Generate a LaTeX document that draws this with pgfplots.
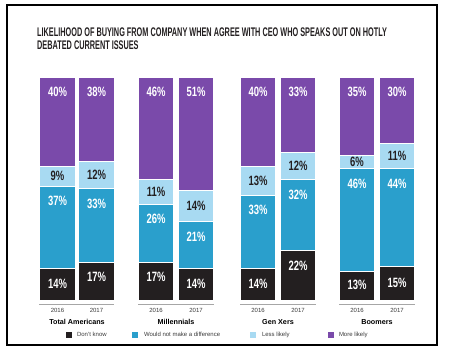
\documentclass[border=0pt]{standalone}
\usepackage{pgfplots}
\pgfplotsset{compat=1.18}
\usepackage{fontspec}
\setmainfont{Liberation Sans}
\newfontfamily\titlefont{Liberation Sans}[FakeStretch=0.585]
\newfontfamily\pctfont{Liberation Sans}[FakeStretch=0.7]
\definecolor{cdk}{HTML}{231F20}
\definecolor{cmid}{HTML}{2A9FCC}
\definecolor{clight}{HTML}{A8DAF2}
\definecolor{cpur}{HTML}{7A4AAA}
\definecolor{ctxt}{HTML}{3A3A3A}
\newcommand\yl[2]{\node[text=ctxt, font=\fontsize{6}{7}\selectfont, inner sep=0pt] at (axis cs:#1,-4.6) {#2};}
\newcommand\gl[2]{\node[text=black, font=\bfseries\fontsize{7.2}{8}\selectfont, inner sep=0pt] at (axis cs:#1,-10) {#2};}
\newcommand\bline[2]{\draw[black!35, line width=0.8pt] (axis cs:#1,-1.8) -- (axis cs:#2,-1.8);}
\pgfplotsset{frame/.style={scale only axis, width=430pt, height=340pt,
  xmin=7, xmax=437, ymin=-20.18, ymax=132.29, clip=false}}
\begin{document}
\begin{tikzpicture}
\begin{axis}[
  frame,
  axis line style={line width=1.8pt, black},
  xtick=\empty, ytick=\empty,
  ybar stacked, bar width=35.5,
  legend image code/.code={\path[#1,draw=none] (0pt,-3pt) rectangle (6pt,3pt);},
  legend style={at={(axis cs:66,-15.7)}, anchor=west, draw=none, fill=none,
    legend columns=4, inner sep=0pt, outer sep=0pt,
    font=\fontsize{6}{7}\selectfont, text=ctxt,
    cells={anchor=west, inner xsep=0pt}},
]
\addplot[fill=cdk, draw=white, line width=0.9pt] coordinates
 {(57.5,14) (96.5,17) (156,17) (196,14) (258,14) (298,22) (357,13) (397,15)};
\addplot[fill=cmid, draw=white, line width=0.9pt] coordinates
 {(57.5,37) (96.5,33) (156,26) (196,21) (258,33) (298,32) (357,46) (397,44)};
\addplot[fill=clight, draw=white, line width=0.9pt] coordinates
 {(57.5,9) (96.5,12) (156,11) (196,14) (258,13) (298,12) (357,6) (397,11)};
\addplot[fill=cpur, draw=white, line width=0.9pt] coordinates
 {(57.5,40) (96.5,38) (156,46) (196,51) (258,40) (298,34) (357,35) (397,30)};
\legend{\hspace*{3pt}\makebox[53pt][l]{Don't know},
        \hspace*{4pt}\makebox[104pt][l]{Would not make a difference},
        \hspace*{4pt}\makebox[64pt][l]{Less likely},
        \hspace*{3pt}More likely}
\bline{39}{114}\bline{138}{214}\bline{240}{316}\bline{339}{415}
\yl{57.5}{2016}\yl{156}{2016}\yl{258}{2016}\yl{357}{2016}
\yl{96.5}{2017}\yl{196}{2017}\yl{298}{2017}\yl{397}{2017}
\gl{77}{Total Americans}\gl{176}{Millennials}\gl{278}{Gen Xers}\gl{377}{Boomers}
\node[anchor=north west, align=left, inner sep=0pt, text=cdk,
  font=\titlefont\bfseries\fontsize{12.5}{12.5}\selectfont] at (axis cs:37,122)
  {LIKELIHOOD OF BUYING FROM COMPANY WHEN AGREE WITH CEO WHO SPEAKS OUT ON HOTLY\\DEBATED CURRENT ISSUES};
\path ([xshift=-7pt,yshift=-13pt]rel axis cs:0,0) rectangle ([xshift=23pt,yshift=5pt]rel axis cs:1,1);
\end{axis}
\begin{axis}[frame, hide axis,
  nodes near coords={\pgfplotspointmeta\%}, point meta=explicit symbolic,
  every node near coord/.style={anchor=center, inner sep=0pt,
    font=\pctfont\bfseries\fontsize{13.5}{13.5}\selectfont}]
\addplot[draw=none, mark=none, every node near coord/.append style={text=white}] table[meta=l] {
x y l
57.5 7.3 14
96.5 10.3 17
156 10.3 17
196 7.3 14
258 7.3 14
298 15.3 22
357 7 13
397 7.8 15
57.5 44.3 37
96.5 43.3 33
156 36.3 26
196 28.3 21
258 40.3 33
298 47.3 32
357 52.3 46
397 52.3 44
57.5 93.3 40
96.5 93.3 38
156 93.3 46
196 93.3 51
258 93.3 40
298 93.3 33
357 93.3 35
397 93.3 30
};
\addplot[draw=none, mark=none, every node near coord/.append style={text=cdk}] table[meta=l] {
x y l
57.5 55.5 9
96.5 56 12
156 48.5 11
196 42 14
258 53.5 13
298 60 12
357 62 6
397 64.5 11
};
\end{axis}
\end{tikzpicture}
\end{document}
